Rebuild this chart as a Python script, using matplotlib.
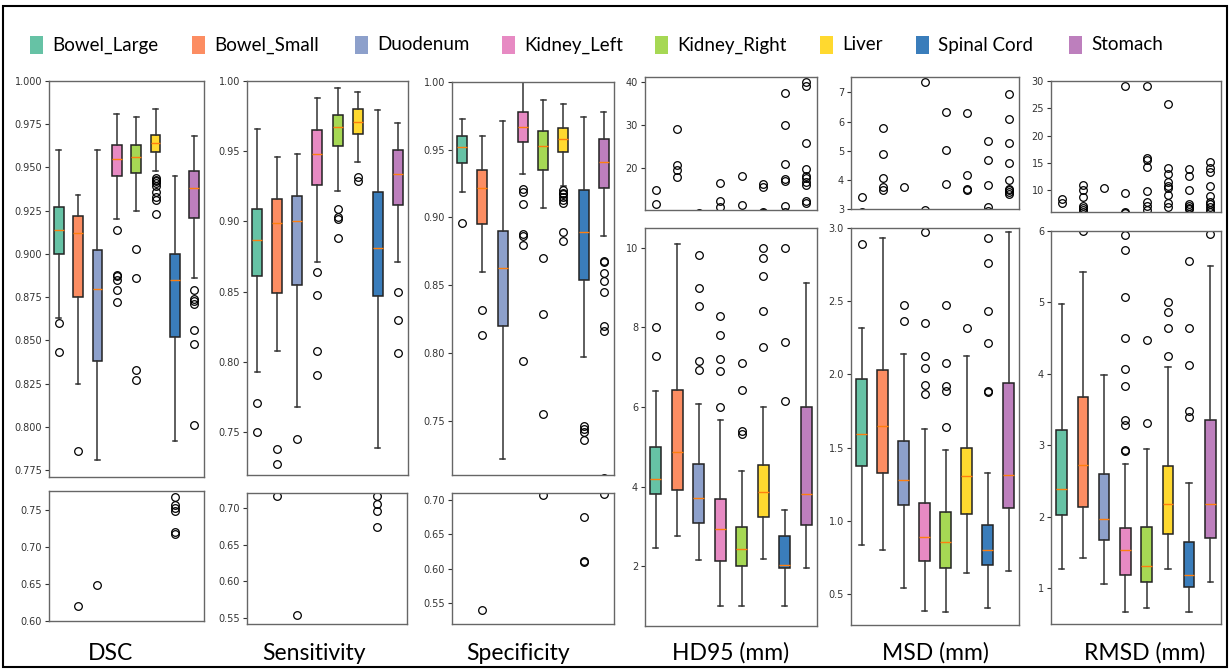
import matplotlib.pyplot as plt
from matplotlib.patches import Rectangle

ORGANS = ["Bowel_Large", "Bowel_Small", "Duodenum", "Kidney_Left",
          "Kidney_Right", "Liver", "Spinal Cord", "Stomach"]
COLORS = ["#66c2a5", "#fc8d62", "#8da0cb", "#e78ac3",
          "#a6d854", "#ffd92f", "#3a7dbb", "#bd7fbd"]
METRICS = ["DSC", "Sensitivity", "Specificity", "HD95 (mm)", "MSD (mm)", "RMSD (mm)"]

# ---- DSC ----
DSC_LO = [0.863, 0.825, 0.781, 0.920, 0.925, 0.948, 0.792, 0.886]
DSC_Q1 = [0.900, 0.875, 0.838, 0.945, 0.947, 0.959, 0.852, 0.921]
DSC_MED = [0.914, 0.912, 0.880, 0.955, 0.956, 0.964, 0.885, 0.938]
DSC_Q3 = [0.927, 0.922, 0.902, 0.963, 0.963, 0.969, 0.900, 0.948]
DSC_HI = [0.960, 0.934, 0.960, 0.981, 0.979, 0.984, 0.945, 0.968]
DSC_FLIERS = [[0.860, 0.843], [0.786, 0.620], [0.649],
              [0.914, 0.888, 0.887, 0.885, 0.879, 0.872],
              [0.903, 0.886, 0.833, 0.827],
              [0.944, 0.943, 0.942, 0.941, 0.939, 0.936, 0.933, 0.931, 0.923],
              [0.7675, 0.756, 0.752, 0.748, 0.720, 0.717],
              [0.879, 0.874, 0.873, 0.871, 0.856, 0.848, 0.801]]

# ---- Sensitivity ----
SEN_LO = [0.793, 0.808, 0.768, 0.871, 0.922, 0.942, 0.739, 0.871]
SEN_Q1 = [0.861, 0.849, 0.855, 0.926, 0.954, 0.962, 0.847, 0.912]
SEN_MED = [0.887, 0.899, 0.900, 0.948, 0.967, 0.971, 0.881, 0.934]
SEN_Q3 = [0.909, 0.916, 0.918, 0.965, 0.976, 0.980, 0.921, 0.951]
SEN_HI = [0.966, 0.946, 0.948, 0.988, 0.995, 0.992, 0.979, 0.970]
SEN_FLIERS = [[0.771, 0.750], [0.738, 0.727, 0.716], [0.745, 0.554],
              [0.864, 0.848, 0.808, 0.791], [0.909, 0.903, 0.902, 0.888],
              [0.932, 0.929], [0.716, 0.705, 0.696, 0.674],
              [0.850, 0.830, 0.806]]

# ---- Specificity ----
SPE_LO = [0.919, 0.860, 0.722, 0.932, 0.907, 0.923, 0.797, 0.886]
SPE_Q1 = [0.940, 0.895, 0.820, 0.956, 0.935, 0.948, 0.854, 0.922]
SPE_MED = [0.952, 0.922, 0.863, 0.967, 0.953, 0.958, 0.889, 0.941]
SPE_Q3 = [0.960, 0.935, 0.890, 0.978, 0.964, 0.966, 0.920, 0.958]
SPE_HI = [0.973, 0.960, 0.971, 1.000, 0.987, 0.984, 0.974, 0.978]
SPE_FLIERS = [[0.896], [0.832, 0.813, 0.540], [],
              [0.921, 0.919, 0.910, 0.888, 0.886, 0.880, 0.794],
              [0.870, 0.829, 0.755, 0.707],
              [0.920, 0.918, 0.917, 0.915, 0.913, 0.911, 0.889, 0.883],
              [0.746, 0.744, 0.742, 0.736, 0.675, 0.611, 0.610],
              [0.868, 0.867, 0.859, 0.853, 0.845, 0.820, 0.816, 0.708]]

# ---- HD95 ----
HD_LO = [2.47, 2.77, 2.16, 0.99, 0.99, 2.18, 0.99, 1.95]
HD_Q1 = [3.81, 3.92, 3.08, 2.14, 2.00, 3.25, 1.95, 3.05]
HD_MED = [4.19, 4.88, 3.71, 2.94, 2.44, 3.87, 2.04, 3.81]
HD_Q3 = [4.99, 6.42, 4.56, 3.68, 3.00, 4.54, 2.76, 6.00]
HD_HI = [6.40, 10.1, 6.08, 5.67, 4.39, 6.00, 3.41, 9.11]
HD_FLIERS = [[15.0, 11.9, 8.0, 7.28], [29.1, 20.8, 19.7, 18.0],
             [9.82, 9.0, 8.54, 7.16, 6.94],
             [16.6, 12.5, 11.2, 8.29, 7.82, 7.22, 6.90, 6.0],
             [18.2, 11.5, 7.1, 6.44, 5.40, 5.33],
             [16.3, 15.8, 10.0, 9.75, 9.30, 8.41, 7.50],
             [37.5, 30.0, 21.0, 17.5, 17.2, 11.3, 10.0, 7.64, 6.16],
             [40.0, 39.1, 26.0, 19.8, 18.3, 17.7, 16.9, 16.2, 12.5, 12.0]]

# ---- MSD ----
MSD_LO = [0.838, 0.804, 0.544, 0.385, 0.378, 0.645, 0.408, 0.658]
MSD_Q1 = [1.378, 1.326, 1.107, 0.729, 0.677, 1.046, 0.697, 1.091]
MSD_MED = [1.597, 1.649, 1.278, 0.888, 0.859, 1.308, 0.800, 1.314]
MSD_Q3 = [1.966, 2.034, 1.549, 1.123, 1.059, 1.501, 0.970, 1.945]
MSD_HI = [2.314, 2.93, 2.137, 1.631, 1.487, 2.128, 1.330, 2.97]
MSD_FLIERS = [[3.41, 2.89], [5.78, 4.90, 4.08, 3.75, 3.64],
              [3.75, 2.474, 2.367],
              [7.36, 2.97, 2.353, 2.125, 2.041, 1.929, 1.868],
              [6.34, 5.01, 3.86, 2.476, 2.08, 1.92, 1.89, 1.64],
              [6.28, 4.18, 3.67, 3.64, 2.319],
              [5.32, 4.69, 3.82, 3.07, 2.93, 2.759, 2.435, 2.214, 1.888, 1.879],
              [6.95, 6.09, 5.27, 4.57, 3.99, 3.69, 3.64, 3.58, 3.53]]

# ---- RMSD ----
RMSD_LO = [1.27, 1.42, 1.06, 0.67, 0.73, 1.27, 0.67, 1.09]
RMSD_Q1 = [2.02, 2.14, 1.67, 1.19, 1.09, 1.76, 1.02, 1.71]
RMSD_MED = [2.39, 2.72, 1.97, 1.53, 1.31, 2.18, 1.19, 2.18]
RMSD_Q3 = [3.22, 3.68, 2.60, 1.84, 1.86, 2.71, 1.65, 3.36]
RMSD_HI = [4.98, 5.43, 3.99, 2.74, 2.95, 4.10, 2.48, 5.51]
RMSD_FLIERS = [[8.4, 7.6], [11.0, 10.0, 8.8, 7.1, 6.8, 6.4, 6.0], [10.4],
               [29.1, 9.4, 5.95, 5.74, 5.08, 4.50, 4.07, 3.83, 3.35, 3.28, 2.94, 2.92],
               [29.0, 15.9, 15.6, 14.3, 9.9, 7.9, 7.1, 6.4, 4.47, 3.31],
               [25.7, 14.0, 12.9, 11.5, 10.7, 10.4, 9.1, 7.7, 6.9, 5.0, 4.86, 4.64, 4.25],
               [13.8, 12.6, 10.0, 7.4, 7.1, 6.8, 6.5, 5.58, 4.64, 4.13, 3.48, 3.40],
               [15.2, 14.0, 13.4, 10.8, 9.0, 7.9, 7.4, 6.9, 6.3, 5.96]]

W, H = 1230, 669


def box_stats(lo, q1, med, q3, hi, fliers):
    return [dict(whislo=a, q1=b, med=c, q3=d, whishi=e, fliers=f)
            for a, b, c, d, e, f in zip(lo, q1, med, q3, hi, fliers)]


def px_axes(fig, left, right, top, bottom):
    return fig.add_axes([left / W, 1 - bottom / H, (right - left) / W, (bottom - top) / H])


def draw_boxes(ax, stats, ylim, ticks, fmt):
    bp = ax.bxp(stats, patch_artist=True, widths=0.5,
                boxprops=dict(edgecolor="#222222", linewidth=1.1),
                whiskerprops=dict(color="#333333", linewidth=1.1),
                capprops=dict(color="#333333", linewidth=1.1),
                medianprops=dict(color="#ff7f0e", linewidth=1.0),
                flierprops=dict(marker="o", markerfacecolor="none",
                                markeredgecolor="black", markersize=5.5,
                                markeredgewidth=0.9))
    for patch, c in zip(bp["boxes"], COLORS):
        patch.set_facecolor(c)
    ax.set_ylim(*ylim)
    ax.set_yticks(ticks)
    ax.set_yticklabels([fmt.format(t) for t in ticks])
    ax.set_xticks([])
    ax.tick_params(axis="y", labelsize=7, length=3, width=0.8,
                   colors="#333333", pad=2)
    for s in ax.spines.values():
        s.set_color("#666666")
        s.set_linewidth(1.0)


fig = plt.figure(figsize=(W / 100, H / 100), dpi=100)

all_stats = [
    box_stats(DSC_LO, DSC_Q1, DSC_MED, DSC_Q3, DSC_HI, DSC_FLIERS),
    box_stats(SEN_LO, SEN_Q1, SEN_MED, SEN_Q3, SEN_HI, SEN_FLIERS),
    box_stats(SPE_LO, SPE_Q1, SPE_MED, SPE_Q3, SPE_HI, SPE_FLIERS),
    box_stats(HD_LO, HD_Q1, HD_MED, HD_Q3, HD_HI, HD_FLIERS),
    box_stats(MSD_LO, MSD_Q1, MSD_MED, MSD_Q3, MSD_HI, MSD_FLIERS),
    box_stats(RMSD_LO, RMSD_Q1, RMSD_MED, RMSD_Q3, RMSD_HI, RMSD_FLIERS),
]

# layout in pixels: (left, right, top, bottom) for upper and lower panel
upper_rects = [(49, 204, 81, 477), (247, 408, 81, 475), (452, 614, 82, 475),
               (645, 817, 77, 210), (851, 1019, 77, 209), (1051, 1221, 81, 212)]
lower_rects = [(49, 204, 491, 621), (247, 407, 493, 624), (452, 614, 493, 624),
               (645, 817, 228, 626), (851, 1019, 228, 625), (1051, 1221, 231, 624)]
upper_ylims = [(0.771, 1.0), (0.7195, 1.0), (0.7099, 1.0),
               (10.4, 41.15), (3.02, 7.53), (6.0, 30.0)]
lower_ylims = [(0.6, 0.775), (0.5414, 0.7205), (0.5202, 0.7096),
               (0.5, 10.5), (0.29, 3.0), (0.5, 6.0)]
upper_ticks = [[0.775 + 0.025 * i for i in range(10)],
               [0.75 + 0.05 * i for i in range(6)],
               [0.75 + 0.05 * i for i in range(6)],
               [20, 30, 40], [3, 4, 5, 6, 7], [10, 15, 20, 25, 30]]
lower_ticks = [[0.60, 0.65, 0.70, 0.75], [0.55, 0.60, 0.65, 0.70],
               [0.55, 0.60, 0.65, 0.70], [2, 4, 6, 8, 10],
               [0.5, 1.0, 1.5, 2.0, 2.5, 3.0], [1, 2, 3, 4, 5, 6]]
upper_fmt = ["{:.3f}", "{:.2f}", "{:.2f}", "{:.0f}", "{:.0f}", "{:.0f}"]
lower_fmt = ["{:.2f}", "{:.2f}", "{:.2f}", "{:.0f}", "{:.1f}", "{:.0f}"]
label_x = [110, 314, 518, 731, 935, 1145]

for i, stats in enumerate(all_stats):
    ax_u = px_axes(fig, *upper_rects[i])
    draw_boxes(ax_u, stats, upper_ylims[i], upper_ticks[i], upper_fmt[i])
    ax_l = px_axes(fig, *lower_rects[i])
    draw_boxes(ax_l, stats, lower_ylims[i], lower_ticks[i], lower_fmt[i])
    fig.text(label_x[i] / W, 1 - 653 / H, METRICS[i], ha="center", va="center",
             fontsize=16.5, family="Lato", color="black")

# legend row
legend_x = [30, 192, 355, 502, 655, 820, 916, 1069]
for x, name, c in zip(legend_x, ORGANS, COLORS):
    fig.add_artist(Rectangle((x / W, 1 - 54 / H), 13 / W, 18 / H,
                             transform=fig.transFigure, facecolor=c, edgecolor="none"))
    fig.text((x + 22) / W, 1 - 45 / H, name, ha="left", va="center",
             fontsize=13.5, family="Lato", color="black")

# outer frame
fig.add_artist(Rectangle((3 / W, 2 / H), (W - 6) / W, (H - 8) / H,
                         transform=fig.transFigure, facecolor="none",
                         edgecolor="black", linewidth=1.5))

fig.savefig("out.png", dpi=100)
